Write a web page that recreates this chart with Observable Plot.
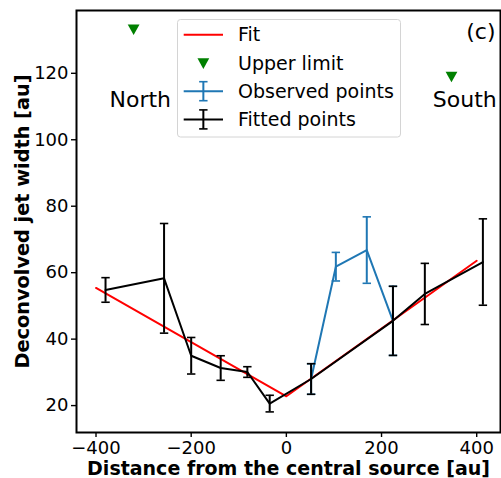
<!DOCTYPE html>
<html>
<head>
<meta charset="utf-8">
<script src="https://cdn.jsdelivr.net/npm/d3@7"></script>
<script src="https://cdn.jsdelivr.net/npm/@observablehq/plot@0.6"></script>
<style>
  html, body { margin: 0; padding: 0; background: white; }
  #chart { position: relative; width: 501px; height: 478px; }
</style>
</head>
<body>
<div id="chart"></div>
<script>
// ---- data ----
const fitX = [-400, 0, 400];
const fitY = [55.4, 22.8, 63.6];

const fittedX = [-380, -257, -200, -138, -82, -35, 52, 224, 291, 413];
const fittedY = [54.8, 58.3, 35.0, 31.3, 30.1, 20.6, 28.0, 45.5, 53.6, 63.2];
const fittedErr = [3.7, 16.5, 5.5, 3.7, 1.6, 2.5, 4.6, 10.4, 9.2, 13.0];

const obsX = [52, 104, 169, 224];
const obsY = [28.0, 61.8, 66.8, 45.5];
const obsErr = [4.6, 4.3, 10.0, 10.4];

const upperX = [-321, 347];
const upperY = [133.1, 118.9];

const regionLabels = ["North", "South"];
const regionX = [-307, 375];
const regionY = [112, 112];

const panelLabel = "(c)";
const xTicks = [-400, -200, 0, 200, 400];
const yTicks = [20, 40, 60, 80, 100, 120];
const xLabel = "Distance from the central source [au]";
const yLabel = "Deconvolved jet width [au]";
const legendLabels = ["Fit", "Upper limit", "Observed points", "Fitted points"];

// ---- tables ----
const fit = fitX.map((x, i) => ({x, y: fitY[i]}));
const fitted = fittedX.map((x, i) => ({x, y: fittedY[i], e: fittedErr[i]}));
const obs = obsX.map((x, i) => ({x, y: obsY[i], e: obsErr[i]}));
const upper = upperX.map((x, i) => ({x, y: upperY[i]}));
const regions = regionLabels.map((t, i) => ({t, x: regionX[i], y: regionY[i]}));

const RED = "#ff0000", BLUE = "#1f77b4", GREEN = "#008000", BLACK = "#000000";

const capSymbol = { draw(ctx) { ctx.moveTo(-4.2, 0); ctx.lineTo(4.2, 0); } };
const triDown = { draw(ctx) { ctx.moveTo(-5.9, -5.3); ctx.lineTo(5.9, -5.3); ctx.lineTo(0, 5.3); ctx.closePath(); } };

const fmt = d3.format("d");

const svg = Plot.plot({
  width: 501,
  height: 478,
  marginLeft: 76,
  marginRight: 1,
  marginTop: 10,
  marginBottom: 46,
  x: {domain: [-441, 450]},
  y: {domain: [11.9, 138.9]},
  style: {fontFamily: "'DejaVu Sans', sans-serif", fontSize: "18px", color: "black", background: "white"},
  marks: [
    Plot.axisX({ticks: xTicks, tickFormat: fmt, tickSize: 5, tickPadding: 4, strokeWidth: 1.4, label: null, fontSize: 18}),
    Plot.axisY({ticks: yTicks, tickFormat: fmt, tickSize: 5, tickPadding: 3, strokeWidth: 1.4, label: null, fontSize: 18}),
    // fit
    Plot.line(fit, {x: "x", y: "y", stroke: RED, strokeWidth: 2}),
    // upper limits
    Plot.dot(upper, {x: "x", y: "y", symbol: triDown, fill: GREEN, stroke: "none"}),
    // observed
    Plot.line(obs, {x: "x", y: "y", stroke: BLUE, strokeWidth: 2}),
    Plot.ruleX(obs, {x: "x", y1: d => d.y - d.e, y2: d => d.y + d.e, stroke: BLUE, strokeWidth: 2}),
    Plot.dot(obs, {x: "x", y: d => d.y - d.e, symbol: capSymbol, stroke: BLUE, strokeWidth: 1.6}),
    Plot.dot(obs, {x: "x", y: d => d.y + d.e, symbol: capSymbol, stroke: BLUE, strokeWidth: 1.6}),
    // fitted
    Plot.line(fitted, {x: "x", y: "y", stroke: BLACK, strokeWidth: 2}),
    Plot.ruleX(fitted, {x: "x", y1: d => d.y - d.e, y2: d => d.y + d.e, stroke: BLACK, strokeWidth: 2}),
    Plot.dot(fitted, {x: "x", y: d => d.y - d.e, symbol: capSymbol, stroke: BLACK, strokeWidth: 1.6}),
    Plot.dot(fitted, {x: "x", y: d => d.y + d.e, symbol: capSymbol, stroke: BLACK, strokeWidth: 1.6}),
    // annotations
    Plot.text(regions, {x: "x", y: "y", text: "t", fontSize: 22, fill: BLACK, textAnchor: "middle"}),
    Plot.text([panelLabel], {text: d => d, frameAnchor: "top-right", dx: -5, dy: 13, fontSize: 22, fill: BLACK}),
    // axis labels
    Plot.text([xLabel], {text: d => d, frameAnchor: "bottom", textAnchor: "middle", lineAnchor: "bottom", dy: 42, fontSize: 19, fontWeight: "bold", fill: BLACK}),
    Plot.text([yLabel], {text: d => d, frameAnchor: "left", textAnchor: "middle", lineAnchor: "bottom", rotate: -90, dx: -48, fontSize: 19.3, fontWeight: "bold", fill: BLACK}),
    Plot.frame({stroke: BLACK, strokeWidth: 2})
  ]
});

// ---- legend (drawn inside the same SVG) ----
const g = d3.select(svg).append("g")
  .attr("font-family", "'DejaVu Sans', sans-serif")
  .attr("font-size", 19)
  .attr("text-anchor", "start");
g.append("rect")
  .attr("x", 177.5).attr("y", 19.5).attr("width", 223).attr("height", 117.5)
  .attr("rx", 3).attr("fill", "white").attr("fill-opacity", 0.8)
  .attr("stroke", "#d4d4d4").attr("stroke-width", 1);
const rowY = [34.7, 63.6, 91.2, 119.4];
const hx0 = 183.7, hx1 = 223, hxc = (hx0 + hx1) / 2;
// Fit
g.append("line").attr("x1", hx0).attr("x2", hx1).attr("y1", rowY[0]).attr("y2", rowY[0]).attr("stroke", RED).attr("stroke-width", 2);
// Upper limit
g.append("path").attr("d", `M${hxc - 5.9},${rowY[1] - 5.3}L${hxc + 5.9},${rowY[1] - 5.3}L${hxc},${rowY[1] + 5.3}Z`).attr("fill", GREEN);
// Observed / Fitted errorbar handles
[[2, BLUE], [3, BLACK]].forEach(([i, c]) => {
  const y = rowY[i];
  g.append("line").attr("x1", hx0).attr("x2", hx1).attr("y1", y).attr("y2", y).attr("stroke", c).attr("stroke-width", 2);
  g.append("line").attr("x1", hxc).attr("x2", hxc).attr("y1", y - 9.5).attr("y2", y + 9.5).attr("stroke", c).attr("stroke-width", 2);
  g.append("line").attr("x1", hxc - 4.2).attr("x2", hxc + 4.2).attr("y1", y - 9.5).attr("y2", y - 9.5).attr("stroke", c).attr("stroke-width", 1.6);
  g.append("line").attr("x1", hxc - 4.2).attr("x2", hxc + 4.2).attr("y1", y + 9.5).attr("y2", y + 9.5).attr("stroke", c).attr("stroke-width", 1.6);
});
legendLabels.forEach((t, i) => {
  g.append("text").attr("x", 238).attr("y", rowY[i]).attr("dy", "0.35em").attr("fill", BLACK).attr("text-anchor", "start").text(t);
});

document.getElementById("chart").appendChild(svg);
</script>
</body>
</html>
